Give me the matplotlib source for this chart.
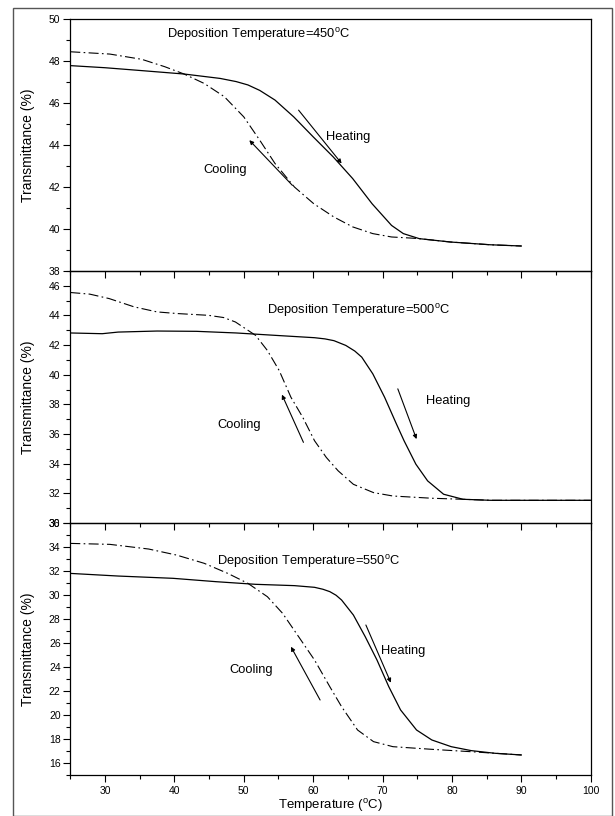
import matplotlib
matplotlib.use("Agg")
import matplotlib.pyplot as plt
from matplotlib.patches import Rectangle
from matplotlib.ticker import MultipleLocator

plt.rcParams['font.family'] = ['Liberation Sans', 'DejaVu Sans']
plt.rcParams['mathtext.fontset'] = 'custom'
plt.rcParams['mathtext.rm'] = 'Liberation Sans'

# ---------------- data ----------------
# Panel 1: deposition 450 C
t450_heat_x = [25, 30, 35, 41.4, 46.6, 48.9, 50.6, 52.3, 54.5, 57.2, 60.0, 62.9, 65.7, 68.5, 71.3, 73.0, 75.3, 79.8, 85.5, 90]
t450_heat_y = [47.78, 47.68, 47.55, 47.38, 47.17, 47.02, 46.86, 46.6, 46.14, 45.34, 44.39, 43.43, 42.4, 41.2, 40.17, 39.78, 39.54, 39.38, 39.25, 39.19]
t450_cool_x = [25, 30.7, 35.3, 38.6, 41.4, 44.3, 47.2, 50.0, 52.3, 54.5, 57.3, 60.1, 63.0, 65.7, 68.6, 71.3, 74.0, 75.3, 79.8, 85.5, 90]
t450_cool_y = [48.44, 48.33, 48.08, 47.73, 47.38, 46.93, 46.3, 45.34, 44.23, 43.12, 42.0, 41.2, 40.57, 40.1, 39.78, 39.62, 39.57, 39.54, 39.38, 39.25, 39.19]

# Panel 2: deposition 500 C
t500_heat_x = [25, 29.6, 31.9, 37.5, 43.2, 48.9, 54.5, 60.2, 61.7, 63.0, 64.7, 66.0, 67.0, 68.6, 70.3, 72.0, 73.1, 74.8, 76.5, 78.8, 81.6, 85.6, 100]
t500_heat_y = [42.82, 42.77, 42.88, 42.95, 42.93, 42.82, 42.66, 42.5, 42.42, 42.3, 41.98, 41.6, 41.19, 40.06, 38.48, 36.68, 35.55, 33.97, 32.84, 31.94, 31.6, 31.53, 31.53]
t500_cool_x = [25, 27.8, 30.6, 34.2, 37.5, 40.4, 44.9, 47.1, 48.8, 50.6, 51.7, 53.4, 55.1, 56.8, 58.5, 60.2, 61.9, 63.6, 65.8, 68.7, 71.5, 77.1, 81.6, 85.6, 100]
t500_cool_y = [45.55, 45.44, 45.14, 44.58, 44.24, 44.13, 44.01, 43.86, 43.56, 43.0, 42.66, 41.64, 40.29, 38.48, 37.13, 35.55, 34.42, 33.52, 32.61, 32.05, 31.82, 31.67, 31.6, 31.53, 31.53]

# Panel 3: deposition 550 C
t550_heat_x = [25, 31.9, 39.8, 46.0, 51.7, 57.3, 60.2, 61.4, 62.4, 63.3, 64.1, 65.8, 67.5, 69.2, 70.9, 72.6, 74.9, 77.1, 79.9, 82.8, 86.2, 90]
t550_heat_y = [31.8, 31.58, 31.39, 31.11, 30.89, 30.78, 30.64, 30.48, 30.28, 29.98, 29.58, 28.33, 26.53, 24.58, 22.36, 20.42, 18.75, 17.92, 17.36, 17.03, 16.81, 16.67]
t550_cool_x = [25, 30.7, 36.3, 40.3, 44.3, 47.7, 50.6, 53.4, 55.6, 57.9, 60.2, 62.4, 64.1, 66.4, 68.7, 71.5, 77.1, 82.8, 86.2, 90]
t550_cool_y = [34.3, 34.22, 33.83, 33.33, 32.64, 31.8, 30.97, 29.86, 28.47, 26.53, 24.58, 22.36, 20.69, 18.75, 17.78, 17.36, 17.14, 16.94, 16.81, 16.67]

titles = ["Deposition Temperature=450$^{\\rm o}$C",
          "Deposition Temperature=500$^{\\rm o}$C",
          "Deposition Temperature=550$^{\\rm o}$C"]
ylims = [(38, 50), (30, 47), (15, 36)]
yticks = [list(range(38, 51, 2)), list(range(30, 47, 2)), list(range(16, 37, 2))]
xticks = [30, 40, 50, 60, 70, 80, 90, 100]

panels = [
    dict(hx=t450_heat_x, hy=t450_heat_y, cx=t450_cool_x, cy=t450_cool_y,
         title_xy=(38.9, 49.24),
         heat_arrow=((57.9, 45.66), (64.1, 43.12)), heat_txt=(61.9, 44.39),
         cool_arrow=((57.0, 42.08), (50.8, 44.23)), cool_txt=(47.3, 42.8)),
    dict(hx=t500_heat_x, hy=t500_heat_y, cx=t500_cool_x, cy=t500_cool_y,
         title_xy=(53.4, 44.35),
         heat_arrow=((72.2, 39.05), (74.9, 35.66)), heat_txt=(76.3, 38.2),
         cool_arrow=((58.6, 35.44), (55.5, 38.66)), cool_txt=(49.4, 36.6)),
    dict(hx=t550_heat_x, hy=t550_heat_y, cx=t550_cool_x, cy=t550_cool_y,
         title_xy=(46.2, 32.83),
         heat_arrow=((67.6, 27.5), (71.2, 22.69)), heat_txt=(69.8, 25.36),
         cool_arrow=((61.0, 21.25), (56.8, 25.69)), cool_txt=(51.0, 23.75)),
]

# ---------------- figure ----------------
fig = plt.figure(figsize=(6.15, 8.16), dpi=100)
fig.patches.append(Rectangle((13 / 615, 0), 599 / 615, 1 - 8 / 816,
                             transform=fig.transFigure, fill=False,
                             edgecolor='#555555', lw=1.0))

left = 70.3 / 615
width = (590.7 - 70.3) / 615
top = 1 - 19 / 816
bottom = 1 - 775 / 816
h = (top - bottom) / 3

dash = (0, (9, 3, 1.5, 3))
for i, p in enumerate(panels):
    ax = fig.add_axes([left, top - (i + 1) * h, width, h])
    ax.plot(p['hx'], p['hy'], color='k', lw=0.9, solid_joinstyle='round')
    ax.plot(p['cx'], p['cy'], color='k', lw=0.8, linestyle=dash)
    ax.set_xlim(25, 100)
    ax.set_ylim(*ylims[i])
    ax.set_xticks(xticks)
    ax.xaxis.set_minor_locator(MultipleLocator(5))
    ax.set_yticks(yticks[i])
    ax.yaxis.set_minor_locator(MultipleLocator(1))
    ax.tick_params(axis='both', which='major', direction='out', length=5,
                   width=0.8, labelsize=7.5, top=False, right=False)
    ax.tick_params(axis='both', which='minor', direction='out', length=3,
                   width=0.8, top=False, right=False)
    ax.tick_params(axis='y', pad=2)
    ax.tick_params(axis='x', pad=3)
    if i < 2:
        ax.tick_params(axis='x', labelbottom=False)
    for s in ax.spines.values():
        s.set_linewidth(0.9)
    ax.set_ylabel('Transmittance (%)', fontsize=10)
    ax.yaxis.set_label_coords(-0.068, 0.5)
    ax.patch.set_alpha(0)

    ax.text(p['title_xy'][0], p['title_xy'][1], titles[i], fontsize=9.3,
            ha='left', va='center')
    ax.annotate('', xy=p['heat_arrow'][1], xytext=p['heat_arrow'][0],
                arrowprops=dict(arrowstyle='-|>', lw=0.8, color='k',
                                mutation_scale=6, shrinkA=0, shrinkB=0))
    ax.annotate('', xy=p['cool_arrow'][1], xytext=p['cool_arrow'][0],
                arrowprops=dict(arrowstyle='-|>', lw=0.8, color='k',
                                mutation_scale=6, shrinkA=0, shrinkB=0))
    ax.text(p['heat_txt'][0], p['heat_txt'][1], 'Heating', fontsize=9.3,
            ha='left', va='center')
    ax.text(p['cool_txt'][0], p['cool_txt'][1], 'Cooling', fontsize=9.3,
            ha='center', va='center')
    if i == 2:
        ax.set_xlabel('Temperature ($^{\\rm o}$C)', fontsize=9.5, labelpad=1)

fig.savefig('out.png', dpi=100)
